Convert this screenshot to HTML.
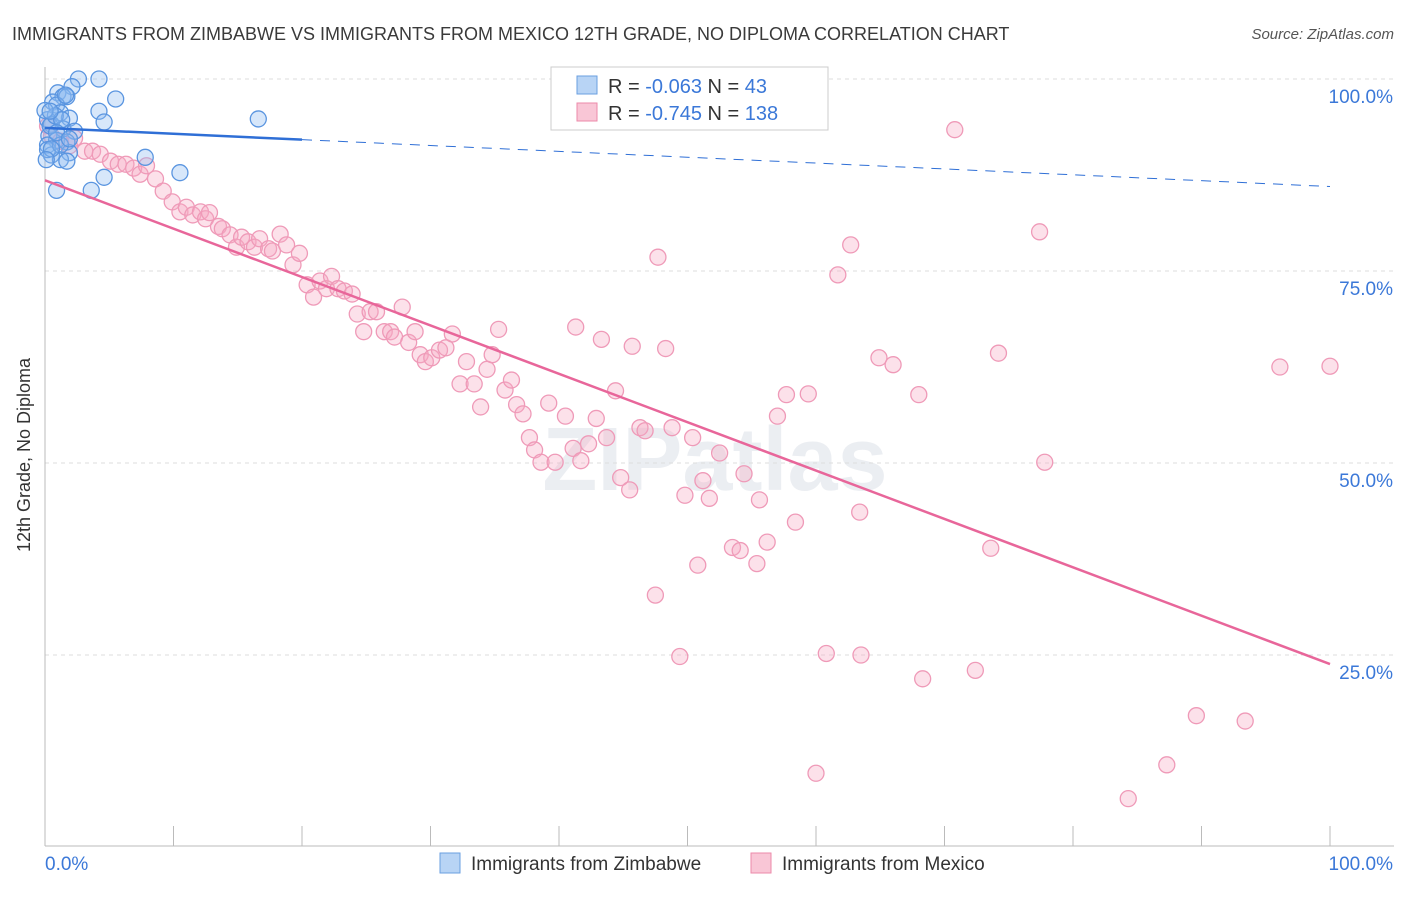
<!DOCTYPE html>
<html><head><meta charset="utf-8"><style>
body{margin:0;background:#fff;font-family:"Liberation Sans",sans-serif;}
svg text{font-family:"Liberation Sans",sans-serif;}
</style></head><body>
<svg id="c" width="1406" height="892">
<text x="12" y="40" font-size="18" fill="#3a3a3a">IMMIGRANTS FROM ZIMBABWE VS IMMIGRANTS FROM MEXICO 12TH GRADE, NO DIPLOMA CORRELATION CHART</text>
<text x="1394" y="39" font-size="15" fill="#555" text-anchor="end" font-style="italic">Source: ZipAtlas.com</text>
<text x="30" y="455" font-size="18" fill="#333" text-anchor="middle" transform="rotate(-90 30 455)">12th Grade, No Diploma</text>
<text x="715" y="490" font-size="90" fill="#dfe3ea" text-anchor="middle" font-weight="bold" opacity="0.6">ZIPatlas</text>
<g id="grid"></g><g id="pts"></g><g id="trend"></g>
<g>
<rect x="551" y="67" width="277" height="63" fill="#fff" stroke="#ccc"/>
<rect x="577" y="76" width="20" height="18" fill="#b8d4f5" stroke="#6a9fe0"/>
<rect x="577" y="103" width="20" height="18" fill="#f9c6d6" stroke="#ec8aaa"/>
<text x="608" y="93" font-size="20" fill="#333">R = <tspan fill="#3b78d8">-0.063</tspan>   N = <tspan fill="#3b78d8"> 43</tspan></text>
<text x="608" y="120" font-size="20" fill="#333">R = <tspan fill="#3b78d8">-0.745</tspan>   N = <tspan fill="#3b78d8">138</tspan></text>
</g>
<g>
<rect x="440" y="853" width="20" height="20" fill="#b8d4f5" stroke="#6a9fe0"/>
<text x="471" y="870" font-size="19" fill="#333">Immigrants from Zimbabwe</text>
<rect x="751" y="853" width="20" height="20" fill="#f9c6d6" stroke="#ec8aaa"/>
<text x="782" y="870" font-size="19" fill="#333">Immigrants from Mexico</text>
</g>
</svg>
<script>
const yTicks=[100,75,50,25];
const yTickLabels=["100.0%","75.0%","50.0%","25.0%"];
const xTickLabels=["0.0%","100.0%"];
const blueX=[2.6,4.2,2.1,1.0,1.4,1.7,0.6,5.5,4.2,0.9,1.2,1.9,0.2,4.6,16.6,0.5,1.4,2.3,0.3,0.9,1.7,0.2,0.5,1.9,1.2,1.7,7.8,10.5,4.6,0.9,3.6,0.4,0.8,1.6,0.2,1.2,0.0,1.3,0.4,0.9,1.9,0.5,0.1];
const blueY=[100,100,99,98.2,97.7,97.7,97.0,97.4,95.8,96.6,95.6,94.9,94.7,94.4,94.8,94.1,93.5,93.2,92.6,92.0,91.8,91.4,90.1,90.4,89.5,89.3,89.8,87.8,87.2,85.5,85.5,93.9,95.2,97.9,90.8,91.4,95.9,94.7,95.8,93.0,92.2,90.9,89.5];
const pinkX=[56.8,70.8,0.2,0.5,1.2,1.9,2.3,3.1,3.7,4.3,5.1,5.7,6.3,6.9,7.4,7.9,8.6,9.2,9.9,10.5,11.0,11.5,12.1,12.5,12.8,13.5,13.8,14.4,14.9,15.3,15.8,16.3,16.7,17.4,17.7,18.3,18.8,19.3,19.8,20.4,20.9,21.4,21.9,22.3,22.8,23.3,23.9,24.3,24.8,25.3,25.8,26.4,26.9,27.2,27.8,28.3,28.8,29.2,29.6,30.1,30.7,31.2,31.7,32.3,32.8,33.4,33.9,34.4,34.8,35.3,35.8,36.3,36.7,37.2,37.7,38.1,38.6,39.2,39.7,40.5,41.1,41.3,41.7,42.3,42.9,43.3,43.7,44.4,44.8,45.5,45.7,46.3,46.7,47.7,47.5,48.3,48.8,49.4,49.8,50.4,50.8,51.2,51.7,52.5,53.5,54.1,54.4,55.4,55.6,56.2,57.0,57.7,58.4,59.4,60.0,60.8,61.7,62.7,63.4,63.5,64.9,66.0,68.0,68.3,72.4,73.6,74.2,77.4,77.8,84.3,87.3,89.6,93.4,96.1,100.0];
const pinkY=[100,93.4,93.9,92.6,91.9,91.3,92.3,90.6,90.6,90.2,89.3,88.9,88.9,88.4,87.6,88.7,87.0,85.4,84.0,82.7,83.3,82.3,82.7,81.8,82.6,80.8,80.5,79.7,78.1,79.4,78.8,78.1,79.2,77.9,77.6,79.8,78.4,75.8,77.3,73.2,71.6,73.7,72.7,74.3,72.7,72.4,72.0,69.4,67.1,69.7,69.7,67.1,67.1,66.4,70.3,65.7,67.1,64.1,63.2,63.7,64.7,65.0,66.8,60.3,63.2,60.3,57.3,62.2,64.1,67.4,59.5,60.8,57.6,56.4,53.3,51.7,50.1,57.8,50.1,56.1,51.9,67.7,50.3,52.5,55.8,66.1,53.3,59.4,48.1,46.5,65.2,54.6,54.2,76.8,32.8,64.9,54.6,24.8,45.8,53.3,36.7,47.7,45.4,51.3,39.0,38.6,48.6,36.9,45.2,39.7,56.1,58.9,42.3,59.0,9.6,25.2,74.5,78.4,43.6,25.0,63.7,62.8,58.9,21.9,23.0,38.9,64.3,80.1,50.1,6.3,10.7,17.1,16.4,62.5,62.6];
const X=v=>45+v*12.85, Y=v=>847-v*7.68;
const NS="http://www.w3.org/2000/svg";
function mk(t,a,p){const e=document.createElementNS(NS,t);for(const k in a)e.setAttribute(k,a[k]);p.appendChild(e);return e;}
const g=document.getElementById('grid');
yTicks.forEach((t,i)=>{
 const l=mk('line',{x1:45,x2:1394,y1:Y(t),y2:Y(t),stroke:'#ddd','stroke-dasharray':'4,4'},g);
 
 
 const tx=mk('text',{x:1393,y:Y(t)+24,'font-size':19,fill:'#3b78d8','text-anchor':'end'},g);
 tx.textContent=yTickLabels[i];
 
 
});
const ax=mk('line',{x1:45,x2:1394,y1:846,y2:846,stroke:'#bbb'},g);


const ay=mk('line',{x1:45,x2:45,y1:67,y2:846,stroke:'#bbb'},g);


for(let i=0;i<=10;i++){const t=mk('line',{x1:X(i*10),x2:X(i*10),y1:826,y2:846,stroke:'#bbb'},g);
 
 }
[[0,'start',45],[100,'end',1393]].forEach((d,i)=>{const t=mk('text',{x:d[2],y:870,'font-size':19,fill:'#3b78d8','text-anchor':d[1]},g);t.textContent=xTickLabels[i];
 
 });
const p=document.getElementById('pts');
pinkX.forEach((x,i)=>{const c=mk('circle',{cx:X(x),cy:Y(pinkY[i]),r:8,fill:'rgba(246,168,195,0.35)',stroke:'#ef9ab8','stroke-width':1.3},p);
 
 });
blueX.forEach((x,i)=>{const c=mk('circle',{cx:X(x),cy:Y(blueY[i]),r:8,fill:'rgba(140,185,240,0.35)',stroke:'#5a95e0','stroke-width':1.3},p);
 
 });
function fit(xs,ys){const n=xs.length,mx=xs.reduce((a,b)=>a+b)/n,my=ys.reduce((a,b)=>a+b)/n;let sxy=0,sxx=0;xs.forEach((x,i)=>{sxy+=(x-mx)*(ys[i]-my);sxx+=(x-mx)**2});const b=sxy/sxx;return [my-b*mx,b];}
const tr=document.getElementById('trend');
const [ba,bb]=fit(blueX,blueY),[pa,pb]=fit(pinkX,pinkY);
let l1=mk('line',{x1:X(0),y1:Y(ba),x2:X(20),y2:Y(ba+bb*20),stroke:'#2f6fd6','stroke-width':2.5},tr);


let l2=mk('line',{x1:X(20),y1:Y(ba+bb*20),x2:X(100),y2:Y(ba+bb*100),stroke:'#2f6fd6','stroke-width':1,'stroke-dasharray':'10,8'},tr);


let l3=mk('line',{x1:X(0),y1:Y(pa),x2:X(100),y2:Y(pa+pb*100),stroke:'#e8669a','stroke-width':2.5},tr);


</script>
</body></html>
